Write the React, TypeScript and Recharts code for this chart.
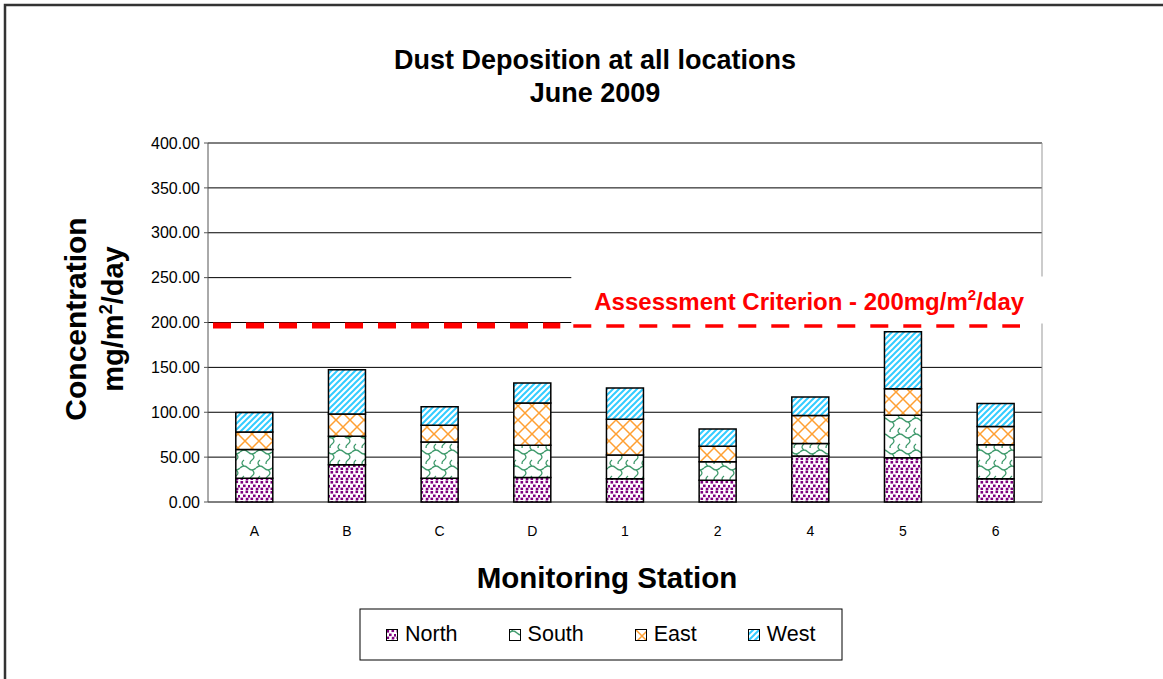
import React from "react";
import { BarChart, Bar, XAxis, YAxis, CartesianGrid, ReferenceLine } from "recharts";

const stations = ["A", "B", "C", "D", "1", "2", "4", "5", "6"];
const north = [26.5, 41.4, 26.6, 27.4, 25.8, 24.2, 51.2, 49.2, 25.8];
const south = [32.1, 31.8, 40.3, 35.7, 26.7, 20.6, 14.0, 47.5, 38.1];
const east = [19.4, 24.9, 18.5, 47.3, 39.6, 17.3, 31.1, 29.6, 20.3];
const west = [21.8, 49.2, 20.8, 22.3, 34.9, 19.3, 20.8, 63.4, 25.6];

const yTicks = [0, 50, 100, 150, 200, 250, 300, 350, 400];
const criterion = 200;

const seriesKeys = ["north", "south", "east", "west"];
const seriesNames = ["North", "South", "East", "West"];
const patternIds = ["patNorth", "patSouth", "patEast", "patWest"];

const data = stations.map((station, i) => ({
  station,
  north: north[i],
  south: south[i],
  east: east[i],
  west: west[i],
}));

const edgeTicks = [...stations.map((_, i) => i), stations.length];

const FONT = "'Liberation Sans', Arial, sans-serif";

const Patterns = () => (
  <svg width={0} height={0} style={{ position: "absolute" }}>
    <defs>
      <pattern id="patNorth" width={10} height={10} patternUnits="userSpaceOnUse">
        <rect width={10} height={10} fill="#fff" />
        <rect x={0.5} y={1} width={2.6} height={2.6} fill="#800080" />
        <rect x={5.5} y={0.5} width={2.6} height={2.6} fill="#800080" />
        <rect x={3} y={4.5} width={2.6} height={2.6} fill="#800080" />
        <rect x={8} y={5} width={2.6} height={2.6} fill="#800080" />
        <rect x={0.5} y={7.6} width={2.6} height={2.6} fill="#800080" />
        <rect x={5.8} y={7.8} width={2.6} height={2.6} fill="#800080" />
      </pattern>
      <pattern id="patSouth" width={16} height={16} patternUnits="userSpaceOnUse">
        <rect width={16} height={16} fill="#fff" />
        <path
          d="M0 4 Q4 0 8 4 T16 4 M12 6 Q16 9 12 12 T12 18 M4 12 Q0 15 4 18 M4 -4 Q0 -1 4 2"
          fill="none"
          stroke="#3f9a6c"
          strokeWidth={1.3}
        />
      </pattern>
      <pattern id="patEast" width={14} height={14} patternUnits="userSpaceOnUse">
        <rect width={14} height={14} fill="#fff" />
        <path d="M0 0 L14 14 M14 0 L0 14" stroke="#ffa032" strokeWidth={1.5} />
      </pattern>
      <pattern id="patWest" width={6} height={6} patternUnits="userSpaceOnUse">
        <rect width={6} height={6} fill="#fff" />
        <path d="M-1 1 L1 -1 M0 6 L6 0 M5 7 L7 5" stroke="#33ccff" strokeWidth={2} />
      </pattern>
    </defs>
  </svg>
);

const CriterionShape = (props: any) => {
  const { x1, x2, y1 } = props;
  const y = y1 + 3;
  const split = x1 + (x2 - x1) * 0.438;
  return (
    <g>
      <rect x={split - 2} y={y1 - 46} width={x2 - split + 6} height={47} fill="#fff" />
      <line x1={x1 + 5} x2={split - 13} y1={y} y2={y} stroke="#f00" strokeWidth={6} strokeDasharray="18 15" />
      <line x1={split} x2={x2 - 22} y1={y + 0.5} y2={y + 0.5} stroke="#f00" strokeWidth={3.5} strokeDasharray="18 15" />
      <text x={split + 21} y={y1 - 13} fill="#f00" fontSize={24} fontWeight="bold" fontFamily={FONT}>
        {`Assessment Criterion - ${criterion}mg/m`}
        <tspan dy={-10} fontSize={15}>2</tspan>
        <tspan dy={10}>/day</tspan>
      </text>
    </g>
  );
};

export default function App() {
  return (
    <div style={{ position: "relative", width: 1163, height: 679, background: "#fff", fontFamily: FONT }}>
      <style>{`body{margin:0}`}</style>
      <Patterns />
      <BarChart
        width={1163}
        height={679}
        data={data}
        margin={{ top: 143, right: 121, bottom: 147, left: 0 }}
        barCategoryGap="30%"
      >
        <CartesianGrid vertical={false} stroke="#000" />
        <CartesianGrid
          horizontal={false}
          stroke="#999"
          verticalCoordinatesGenerator={({ offset }: any) => [offset.left + offset.width]}
        />
        <XAxis
          xAxisId="edges"
          type="number"
          domain={[0, stations.length]}
          ticks={edgeTicks}
          height={0}
          tickSize={5}
          tickFormatter={() => ""}
          axisLine={{ stroke: "#555" }}
          tickLine={{ stroke: "#555" }}
        />
        <XAxis
          dataKey="station"
          height={30}
          axisLine={false}
          tickLine={false}
          tickSize={5}
          tickMargin={19}
          interval={0}
          tick={{ fill: "#000", fontSize: 14, fontFamily: FONT }}
        />
        <YAxis
          domain={[0, 400]}
          ticks={yTicks}
          interval={0}
          width={208}
          tickSize={4}
          tickMargin={4}
          tickFormatter={(v: number) => v.toFixed(2)}
          axisLine={{ stroke: "#555" }}
          tickLine={{ stroke: "#555" }}
          tick={{ fill: "#000", fontSize: 16, fontFamily: FONT }}
        />
        {seriesKeys.map((k, i) => (
          <Bar
            key={k}
            dataKey={k}
            name={seriesNames[i]}
            stackId="s"
            fill={`url(#${patternIds[i]})`}
            stroke="#000"
            strokeWidth={1.5}
            isAnimationActive={false}
          />
        ))}
        <ReferenceLine y={criterion} ifOverflow="visible" shape={CriterionShape} />
      </BarChart>

      <svg
        width={1163}
        height={679}
        style={{ position: "absolute", left: 0, top: 0, pointerEvents: "none" }}
        fontFamily={FONT}
      >
        <rect x={5} y={5} width={1200} height={700} fill="none" stroke="#333" strokeWidth={2.5} />
        <text x={595} y={69} textAnchor="middle" fontSize={27} fontWeight="bold" fill="#000">
          Dust Deposition at all locations
        </text>
        <text x={595} y={102} textAnchor="middle" fontSize={27} fontWeight="bold" fill="#000">
          June 2009
        </text>
        <text transform="translate(86,319) rotate(-90)" textAnchor="middle" fontSize={30} fontWeight="bold" fill="#000">
          Concentration
        </text>
        <text transform="translate(123,319) rotate(-90)" textAnchor="middle" fontSize={29} fontWeight="bold" fill="#000">
          mg/m<tspan dy={-11} fontSize={18}>2</tspan>
          <tspan dy={11}>/day</tspan>
        </text>
        <text x={607} y={588} textAnchor="middle" fontSize={29.5} fontWeight="bold" fill="#000">
          Monitoring Station
        </text>
        <rect x={360} y={609} width={482} height={51} fill="#fff" stroke="#000" strokeWidth={1} />
      </svg>

      <div
        style={{
          position: "absolute",
          left: 360,
          top: 609,
          width: 482,
          height: 51,
          display: "flex",
          alignItems: "center",
          paddingLeft: 26,
          boxSizing: "border-box",
          gap: 51,
          fontSize: 21.5,
          color: "#000",
        }}
      >
        {seriesNames.map((name, i) => (
          <div key={name} style={{ display: "flex", alignItems: "center", gap: 7 }}>
            <svg width={12} height={12}>
              <rect x={0.5} y={0.5} width={11} height={11} fill={`url(#${patternIds[i]})`} stroke="#000" strokeWidth={1} />
            </svg>
            <span>{name}</span>
          </div>
        ))}
      </div>
    </div>
  );
}
